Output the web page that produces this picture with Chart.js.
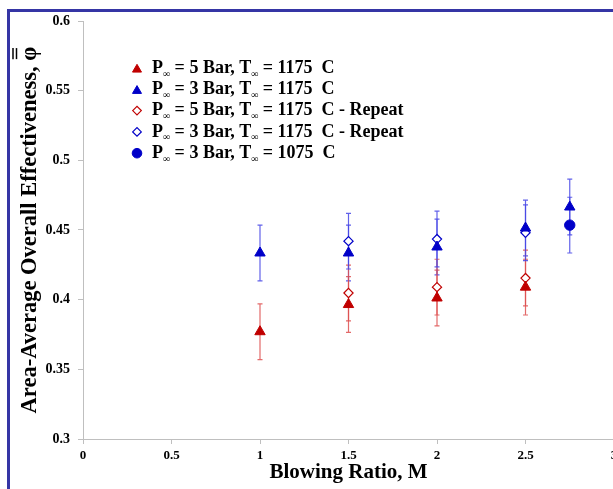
<!DOCTYPE html>
<html>
<head>
<meta charset="utf-8">
<script src="https://cdn.jsdelivr.net/npm/chart.js@4/dist/chart.umd.min.js"></script>
<style>
  html, body { margin: 0; padding: 0; background: #fff; overflow: hidden; width: 613px; height: 489px; }
  #wrap { position: relative; width: 700px; height: 489px; }
  #frame { position: absolute; left: 7px; top: 9px; width: 800px; height: 600px;
           border-left: 3px solid #3535a5; border-top: 3px solid #3535a5; pointer-events: none; }
  canvas { position: absolute; left: 0; top: 0; }
</style>
</head>
<body>
<div id="wrap">
  <canvas id="c" width="700" height="489"></canvas>
  <div id="frame"></div>
</div>
<script>
// ---- data ----
const xTickLabels = ['0', '0.5', '1', '1.5', '2', '2.5', '3'];
const yTickLabels = ['0.3', '0.35', '0.4', '0.45', '0.5', '0.55', '0.6'];

const labels = [
  'P∞ = 5 Bar, T∞ = 1175  C',
  'P∞ = 3 Bar, T∞ = 1175  C',
  'P∞ = 5 Bar, T∞ = 1175  C - Repeat',
  'P∞ = 3 Bar, T∞ = 1175  C - Repeat',
  'P∞ = 3 Bar, T∞ = 1075  C'
];

const m5Bar1175 = [1, 1.5, 2, 2.5];
const phi5Bar1175 = [0.377, 0.3965, 0.4012, 0.409];
const err5Bar1175 = [0.02, 0.02, 0.02, 0.02];

const m3Bar1175 = [1, 1.5, 2, 2.5, 2.75];
const phi3Bar1175 = [0.4335, 0.4335, 0.4378, 0.4514, 0.4665];
const err3Bar1175 = [0.02, 0.02, 0.02, 0.02, 0.02];

const m5Bar1175Rep = [1.5, 2, 2.5];
const phi5Bar1175Rep = [0.4048, 0.409, 0.4155];
const err5Bar1175Rep = [0.02, 0.02, 0.02];

const m3Bar1175Rep = [1.5, 2, 2.5];
const phi3Bar1175Rep = [0.442, 0.4435, 0.448];
const err3Bar1175Rep = [0.02, 0.02, 0.02];

const m3Bar1075 = [2.75];
const phi3Bar1075 = [0.4535];
const err3Bar1075 = [0.02];

const RED = '#c00000', BLUE = '#0000c8';
const RED_BAR = 'rgba(222,80,80,0.85)', BLUE_BAR = 'rgba(70,70,230,0.85)';

const Y_TITLE = 'Area-Average Overall Effectiveness, φ';

function pts(xs, ys) { return xs.map((x, i) => ({ x: x, y: ys[i] })); }

const datasets = [
  { label: labels[0], data: pts(m5Bar1175, phi5Bar1175), errors: err5Bar1175, barColor: RED_BAR,
    pointStyle: 'triangle', radius: 6, backgroundColor: RED, borderColor: RED, borderWidth: 1 },
  { label: labels[1], data: pts(m3Bar1175, phi3Bar1175), errors: err3Bar1175, barColor: BLUE_BAR,
    pointStyle: 'triangle', radius: 6, backgroundColor: BLUE, borderColor: BLUE, borderWidth: 1 },
  { label: labels[2], data: pts(m5Bar1175Rep, phi5Bar1175Rep), errors: err5Bar1175Rep, barColor: RED_BAR,
    pointStyle: 'rectRot', radius: 4.6, backgroundColor: '#ffffff', borderColor: RED, borderWidth: 1.2 },
  { label: labels[3], data: pts(m3Bar1175Rep, phi3Bar1175Rep), errors: err3Bar1175Rep, barColor: BLUE_BAR,
    pointStyle: 'rectRot', radius: 4.6, backgroundColor: '#ffffff', borderColor: BLUE, borderWidth: 1.2 },
  { label: labels[4], data: pts(m3Bar1075, phi3Bar1075), errors: err3Bar1075, barColor: BLUE_BAR,
    pointStyle: 'circle', radius: 5.2, backgroundColor: BLUE, borderColor: BLUE, borderWidth: 1 }
];
datasets.forEach(d => { d.showLine = false; d.pointRadius = d.radius; d.pointHoverRadius = d.radius; });

const SERIF = '"Liberation Serif", "Times New Roman", serif';
const Y_TITLE_SIZE = 22.5;

const errorBars = {
  id: 'errorBars',
  beforeDatasetsDraw(chart) {
    const ctx = chart.ctx, xs = chart.scales.x, ys = chart.scales.y;
    ctx.save();
    chart.data.datasets.forEach(ds => {
      ctx.strokeStyle = ds.barColor;
      ctx.lineWidth = 1.2;
      ds.data.forEach((p, i) => {
        const e = ds.errors[i];
        const px = xs.getPixelForValue(p.x);
        const yt = ys.getPixelForValue(p.y + e), yb = ys.getPixelForValue(p.y - e);
        ctx.beginPath();
        ctx.moveTo(px, yt); ctx.lineTo(px, yb);
        ctx.moveTo(px - 2.5, yt); ctx.lineTo(px + 2.5, yt);
        ctx.moveTo(px - 2.5, yb); ctx.lineTo(px + 2.5, yb);
        ctx.stroke();
      });
    });
    ctx.restore();
  }
};

// double overbar on the φ of the rotated y-axis title
const phiBar = {
  id: 'phiBar',
  afterDraw(chart) {
    const ctx = chart.ctx, ca = chart.chartArea, ys = chart.scales.y;
    ctx.save();
    ctx.font = 'bold ' + Y_TITLE_SIZE + 'px ' + SERIF;
    const w = ctx.measureText(Y_TITLE).width;
    const wphi = ctx.measureText('φ').width;
    const cy = (ca.top + ca.bottom) / 2;
    const yEnd = cy - w / 2;               // end of text (top on screen)
    const titleX = ys.left + Y_TITLE_SIZE * 1.2 / 2 + 17;
    ctx.strokeStyle = '#000';
    ctx.lineWidth = 1.5;
    [14, 17.5].forEach(d => {
      ctx.beginPath();
      ctx.moveTo(titleX - d, yEnd + 1.5);
      ctx.lineTo(titleX - d, yEnd + wphi - 1.5);
      ctx.stroke();
    });
    ctx.restore();
  }
};

const customLegend = {
  id: 'customLegend',
  afterDraw(chart) {
    const ctx = chart.ctx;
    const mx = 137, tx = 152, y0 = 68, dy = 21.3;
    chart.data.datasets.forEach((ds, i) => {
      const y = y0 + i * dy;
      ctx.save();
      ctx.fillStyle = ds.backgroundColor; ctx.strokeStyle = ds.borderColor; ctx.lineWidth = ds.borderWidth;
      Chart.helpers.drawPoint(ctx, {
        pointStyle: ds.pointStyle,
        radius: ds.pointStyle === 'triangle' ? 5.2 : (ds.pointStyle === 'circle' ? 4.8 : 4.3),
        borderWidth: ds.borderWidth
      }, mx, y + (ds.pointStyle === 'triangle' ? 1.5 : 0));
      ctx.fillStyle = '#000';
      ctx.textBaseline = 'middle';
      ctx.textAlign = 'left';
      const parts = ds.label.split('∞');
      let x = tx;
      parts.forEach((part, k) => {
        ctx.font = 'bold 18px ' + SERIF;
        ctx.fillText(part, x, y);
        x += ctx.measureText(part).width;
        if (k < parts.length - 1) {
          ctx.font = 'bold 10px ' + SERIF;
          ctx.fillText('∞', x, y + 6);
          x += ctx.measureText('∞').width;
        }
      });
      ctx.restore();
    });
  }
};

new Chart(document.getElementById('c'), {
  type: 'scatter',
  data: { datasets: datasets },
  options: {
    responsive: false,
    animation: false,
    devicePixelRatio: 1,
    layout: { padding: { top: 21, right: 86, bottom: 0, left: 0 } },
    plugins: { legend: { display: false }, tooltip: { enabled: false } },
    scales: {
      x: {
        type: 'linear', min: 0, max: 3,
        afterFit(s) { s.height = 50; },
        afterBuildTicks(s) { s.ticks = xTickLabels.map(t => ({ value: parseFloat(t) })); },
        ticks: {
          callback: (v, i) => xTickLabels[i],
          color: '#000', padding: 4, maxRotation: 0, autoSkip: false,
          font: { family: SERIF, size: 13, weight: 'bold' }
        },
        grid: { drawOnChartArea: false, drawTicks: true, tickLength: 5, color: '#bfbfbf' },
        border: { color: '#bfbfbf', width: 1 },
        title: {
          display: true, text: 'Blowing Ratio, M', color: '#000',
          font: { family: SERIF, size: 21, weight: 'bold' },
          padding: { top: 0, bottom: 4 }
        }
      },
      y: {
        type: 'linear', min: 0.3, max: 0.6,
        afterFit(s) { s.width = 83; },
        afterBuildTicks(s) { s.ticks = yTickLabels.map(t => ({ value: parseFloat(t) })); },
        ticks: {
          callback: (v, i) => yTickLabels[i],
          color: '#000', padding: 8, autoSkip: false,
          font: { family: SERIF, size: 14, weight: 'bold' }
        },
        grid: { drawOnChartArea: false, drawTicks: true, tickLength: 5, color: '#bfbfbf' },
        border: { color: '#bfbfbf', width: 1 },
        title: {
          display: true, text: Y_TITLE, color: '#000',
          font: { family: SERIF, size: Y_TITLE_SIZE, weight: 'bold' },
          padding: { top: 17, bottom: 0 }
        }
      }
    }
  },
  plugins: [errorBars, customLegend, phiBar]
});
</script>
</body>
</html>
